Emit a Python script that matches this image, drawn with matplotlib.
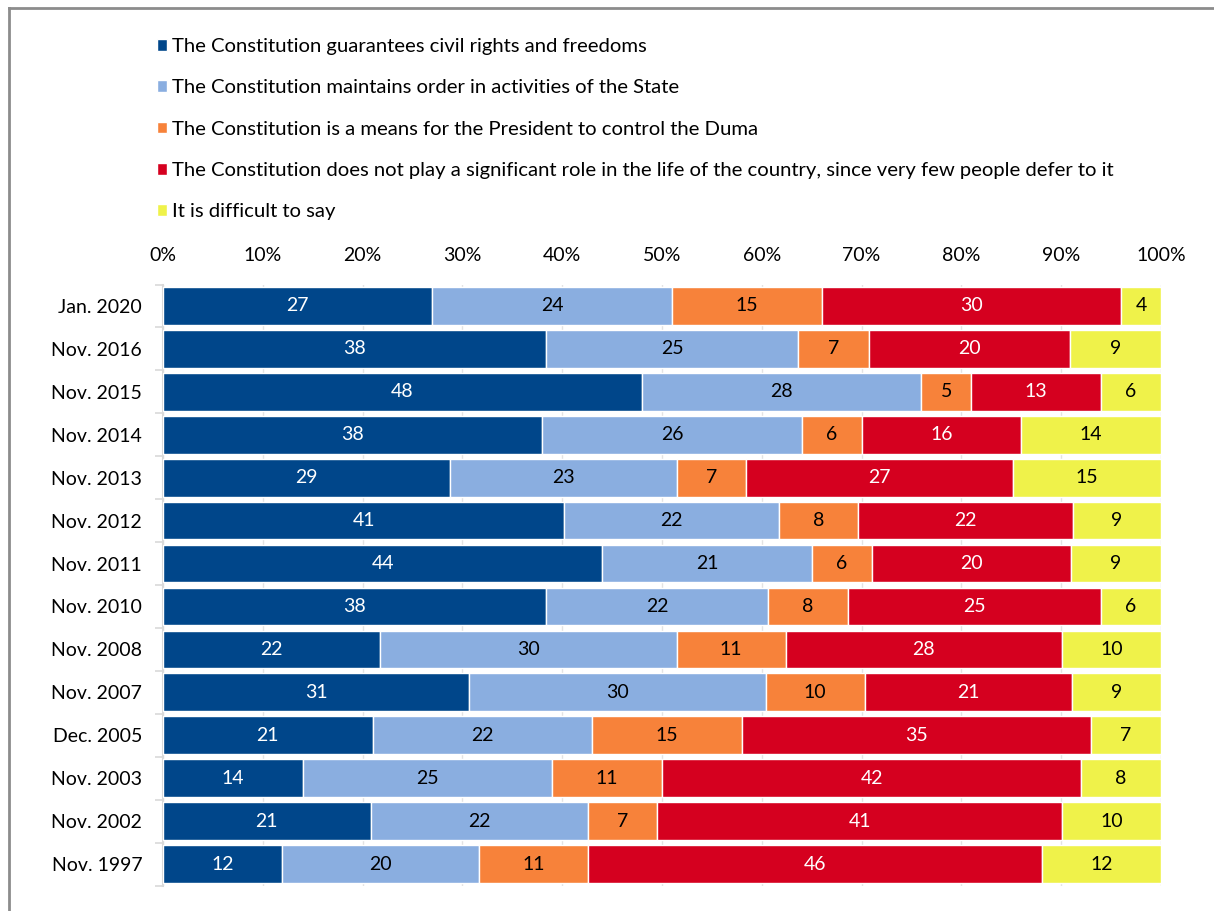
import matplotlib.pyplot as plt
from matplotlib.lines import Line2D
import numpy as np

plt.rcParams['font.family'] = ['Lato', 'DejaVu Sans']

surveys = ["Jan. 2020", "Nov. 2016", "Nov. 2015", "Nov. 2014", "Nov. 2013",
           "Nov. 2012", "Nov. 2011", "Nov. 2010", "Nov. 2008", "Nov. 2007",
           "Dec. 2005", "Nov. 2003", "Nov. 2002", "Nov. 1997"]

rights = [27, 38, 48, 38, 29, 41, 44, 38, 22, 31, 21, 14, 21, 12]
order = [24, 25, 28, 26, 23, 22, 21, 22, 30, 30, 22, 25, 22, 20]
president = [15, 7, 5, 6, 7, 8, 6, 8, 11, 10, 15, 11, 7, 11]
no_role = [30, 20, 13, 16, 27, 22, 20, 25, 28, 21, 35, 42, 41, 46]
difficult = [4, 9, 6, 14, 15, 9, 9, 6, 10, 9, 7, 8, 10, 12]

series_names = [
    "The Constitution guarantees civil rights and freedoms",
    "The Constitution maintains order in activities of the State",
    "The Constitution is a means for the President to control the Duma",
    "The Constitution does not play a significant role in the life of the country, since very few people defer to it",
    "It is difficult to say",
]
series_values = [rights, order, president, no_role, difficult]
colors = ["#00468A", "#8AAEE0", "#F7823A", "#D5001F", "#EFF24A"]
label_colors = ["white", "black", "black", "white", "black"]

x_ticks = [0, 10, 20, 30, 40, 50, 60, 70, 80, 90, 100]

fig = plt.figure(figsize=(12.14, 9.11), dpi=100)
ax = fig.add_axes([163 / 1214, 1 - 885.5 / 911, 998 / 1214, 601 / 911])

data = np.array(series_values, dtype=float)
totals = data.sum(axis=0)
shares = data / totals * 100
y = np.arange(len(surveys))

left = np.zeros(len(surveys))
handles = []
for i, name in enumerate(series_names):
    bars = ax.barh(y, shares[i], left=left, height=0.88, color=colors[i],
                   edgecolor="white", linewidth=1.0, label=name, zorder=3)
    handles.append(bars)
    for j in range(len(surveys)):
        ax.text(left[j] + shares[i][j] / 2, y[j], f"{int(data[i][j])}",
                ha="center", va="center", color=label_colors[i],
                fontsize=14, zorder=4)
    left += shares[i]

ax.set_xlim(0, 100)
ax.set_ylim(len(surveys) - 0.5, -0.5)
ax.xaxis.tick_top()
ax.set_xticks(x_ticks)
ax.set_xticklabels([f"{t}%" for t in x_ticks])
ax.tick_params(axis="x", length=0, pad=15, labelsize=14)
ax.set_yticks(y)
ax.set_yticklabels(surveys)
ax.tick_params(axis="y", length=0, pad=15, labelsize=14)
ax.set_yticks(np.arange(len(surveys) + 1) - 0.5, minor=True)
ax.tick_params(axis="y", which="minor", length=6, color="#d9d9d9", width=1.2)
ax.tick_params(axis="x", which="minor", length=0)

ax.grid(axis="x", color="#e3e3e3", linewidth=1.0, zorder=0)
for side in ["top", "right", "bottom"]:
    ax.spines[side].set_visible(False)
ax.spines["left"].set_color("#d9d9d9")
ax.spines["left"].set_linewidth(1.5)

leg = fig.legend(handles=handles, labels=series_names, loc="upper left",
                 bbox_to_anchor=(157 / 1214, 1 - 38 / 911), frameon=False,
                 fontsize=14.6, handlelength=0.49, handleheight=0.49,
                 handletextpad=0.25, labelspacing=1.2, borderpad=0,
                 borderaxespad=0)

# outer frame (left and top edges)
fig.add_artist(Line2D([9 / 1214, 9 / 1214], [0, 1 - 8 / 911],
                      transform=fig.transFigure, color="#8c8c8c", linewidth=2))
fig.add_artist(Line2D([9 / 1214, 1], [1 - 8 / 911, 1 - 8 / 911],
                      transform=fig.transFigure, color="#8c8c8c", linewidth=2))

fig.savefig("out.png", dpi=100)
